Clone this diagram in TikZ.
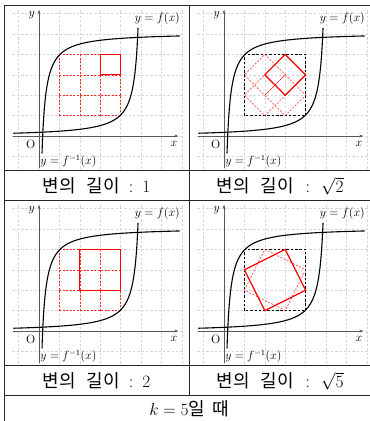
\documentclass[tikz,border=0pt]{standalone}
\usepackage{fontspec}
\newfontfamily\kr{Noto Sans CJK KR}
\usetikzlibrary{arrows.meta}
\begin{document}
\begin{tikzpicture}[x=1pt,y=1pt,
  gridl/.style={gray!32, line width=0.45pt, dash pattern=on 2.5pt off 1.8pt},
  axisl/.style={gray!70!black, line width=0.6pt, -{Stealth[length=4pt,width=3pt]}},
  curvel/.style={black, line width=1.1pt},
  rdash/.style={red!85, line width=0.55pt, dash pattern=on 2pt off 1.5pt},
  rsolid/.style={red, line width=1.2pt, line join=miter},
  kdash/.style={black, line width=0.6pt, dash pattern=on 2.5pt off 1.8pt},
  lab/.style={font=\fontsize{12}{14}\selectfont, inner sep=0pt},
  captxt/.style={font=\fontsize{18}{22}\selectfont, inner sep=0pt},
  tbl/.style={black!85, line width=1pt}]
\useasboundingbox (0,0) rectangle (370,-421);
\clip (0,0) rectangle (370,-421);
\newcommand\basepanel[1]{%
  \foreach \i in {-1,...,7} \draw[gridl] (\i,-1.6) -- (\i,6.2);
  \foreach \j in {-1,...,6} \draw[gridl] (-1.3,\j) -- (7.05,\j);
  \coordinate (#1-xs) at (-1.27,0); \coordinate (#1-xe) at (6.83,0);
  \coordinate (#1-ys) at (0,-1.57); \coordinate (#1-ye) at (0,6.18);
  \draw[axisl] (#1-xs) -- (#1-xe);
  \draw[axisl] (#1-ys) -- (#1-ye);
}
\newcommand\curvesandlabels[1]{%
  \draw[curvel] plot[domain=-1.773:1.607, samples=120, variable=\s, smooth]
    ({5.07-1.0736*exp(-\s)},{-0.047+1.0736*exp(\s)});
  \draw[curvel] plot[domain=-1.707:1.867, samples=120, variable=\s, smooth]
    ({-0.047+1.0736*exp(\s)},{5.07-1.0736*exp(-\s)});
  \node[lab] (#1-x) at (6.62,-0.38) {$x$};
  \node[lab] (#1-y) at (-0.36,5.93) {$y$};
  \node[lab] (#1-O) at (-0.41,-0.39) {O};
  \node[lab] (#1-f) at (5.8,5.77) {$y=f(x)$};
  \node[lab] (#1-g) at (1.44,-1.26) {$y=f^{-1}(x)$};
}
% panel 1
\begin{scope}[shift={(39pt,-136pt)}, x=20.4pt, y=20.4pt]
  \basepanel{p1}
  \foreach \i in {1,2,3,4} \draw[rdash] (\i,1) -- (\i,4) (1,\i) -- (4,\i);
  \draw[rsolid] (3,3) rectangle (4,4);
  \curvesandlabels{p1}
\end{scope}
% panel 2
\begin{scope}[shift={(224pt,-136pt)}, x=20.4pt, y=20.4pt]
  \basepanel{p2}
  \draw[kdash] (1,1) rectangle (4,4);
  \foreach \cx/\cy in {2/2,3/2,2/3,3/3}
    \draw[rdash] (\cx,\cy+1) -- (\cx+1,\cy) -- (\cx,\cy-1) -- (\cx-1,\cy) -- cycle;
  \draw[rsolid] (3,4) -- (4,3) -- (3,2) -- (2,3) -- cycle;
  \curvesandlabels{p2}
\end{scope}
% panel 3
\begin{scope}[shift={(39pt,-331pt)}, x=20.4pt, y=20.4pt]
  \basepanel{p3}
  \foreach \i in {1,2,3,4} \draw[rdash] (\i,1) -- (\i,4) (1,\i) -- (4,\i);
  \draw[rsolid] (2,2) rectangle (4,4);
  \curvesandlabels{p3}
\end{scope}
% panel 4
\begin{scope}[shift={(224pt,-331pt)}, x=20.4pt, y=20.4pt]
  \basepanel{p4}
  \draw[kdash] (1,1) rectangle (4,4);
  \draw[rdash] (1,2) -- (2,4) -- (4,3) -- (3,1) -- cycle;
  \draw[rsolid] (1,3) -- (3,4) -- (4,2) -- (2,1) -- cycle;
  \curvesandlabels{p4}
\end{scope}
% table
\draw[tbl] (4,-5) -- (374,-5);
\draw[tbl] (4,-5) -- (4,-430);
\draw[tbl] (374,-5) -- (374,-430);
\foreach \yy in {170,200,365,395} \draw[tbl] (4,-\yy) -- (374,-\yy);
\draw[tbl] (189,-5) -- (189,-395);
% captions
\node[captxt] (c1) at (96.5,-186) {{\kr 변의}\hspace{11pt}{\kr 길이}\hspace{9pt}:\hspace{9pt}$1$};
\node[captxt] (c2) at (280,-186) {{\kr 변의}\hspace{11pt}{\kr 길이}\hspace{12pt}:\hspace{11pt}$\sqrt{2}$};
\node[captxt] (c3) at (96.5,-381) {{\kr 변의}\hspace{11pt}{\kr 길이}\hspace{9pt}:\hspace{9pt}$2$};
\node[captxt] (c4) at (280,-381) {{\kr 변의}\hspace{11pt}{\kr 길이}\hspace{12pt}:\hspace{11pt}$\sqrt{5}$};
\node[captxt] (c5) at (189,-409) {$k=5${\kr 일}\hspace{7pt}{\kr 때}};
\end{tikzpicture}
\end{document}
